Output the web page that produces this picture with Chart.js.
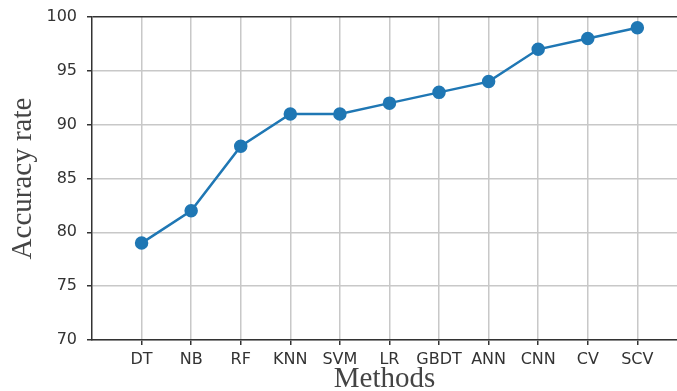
<!DOCTYPE html>
<html>
<head>
<meta charset="utf-8">
<script src="https://cdn.jsdelivr.net/npm/chart.js@4"></script>
<style>
  html, body { margin: 0; padding: 0; background: #fff; }
  #wrap { width: 677px; height: 391px; position: relative; }
</style>
</head>
<body>
<div id="wrap"><canvas id="myChart"></canvas></div>
<script>
// Data
const methods = ['DT', 'NB', 'RF', 'KNN', 'SVM', 'LR', 'GBDT', 'ANN', 'CNN', 'CV', 'SCV'];
const accuracy = [79, 82, 88, 91, 91, 92, 93, 94, 97, 98, 99];
const yTicks = [70, 75, 80, 85, 90, 95, 100];

const axisColor = '#333';
const gridColor = '#c8c8c8';
const titleFont = { family: 'Liberation Serif', size: 29 };

const ctx = document.getElementById('myChart').getContext('2d');

new Chart(ctx, {
  type: 'line',
  data: {
    datasets: [{
      label: 'Accuracy',
      data: accuracy.map((v, i) => ({ x: i + 1, y: v })),
      borderColor: '#1f77b4',
      backgroundColor: '#1f77b4',
      pointBackgroundColor: '#1f77b4',
      pointBorderColor: '#1f77b4',
      borderWidth: 2.5,
      pointRadius: 5.5,
      tension: 0
    }]
  },
  options: {
    responsive: true,
    maintainAspectRatio: false,
    animation: false,
    layout: {
      autoPadding: false,
      padding: { top: 17, right: 0, left: 0, bottom: 0 }
    },
    plugins: {
      legend: { display: false },
      tooltip: { enabled: false }
    },
    scales: {
      x: {
        type: 'linear',
        min: 0,
        max: 11.8,
        afterBuildTicks: (axis) => {
          axis.ticks = methods.map((_, i) => ({ value: i + 1 }));
        },
        afterFit: (axis) => {
          axis.height = 51;
          axis.paddingLeft = 0;
          axis.paddingRight = 0;
        },
        ticks: {
          autoSkip: false,
          maxRotation: 0,
          padding: 5,
          color: axisColor,
          font: { family: 'DejaVu Sans', size: 16 },
          callback: (v) => methods[v - 1] || ''
        },
        grid: {
          color: gridColor,
          lineWidth: 1.5,
          tickLength: 5,
          tickColor: axisColor,
          tickWidth: 1.5
        },
        border: { display: true, color: axisColor, width: 1.5 },
        title: {
          display: true,
          text: 'Methods',
          color: '#444',
          font: titleFont,
          padding: { top: 0, bottom: -6 }
        }
      },
      y: {
        min: 70,
        max: 100,
        afterBuildTicks: (axis) => {
          axis.ticks = yTicks.map(v => ({ value: v }));
        },
        afterFit: (axis) => {
          axis.width = 92;
          axis.paddingTop = 0;
          axis.paddingBottom = 0;
        },
        ticks: {
          padding: 10,
          color: axisColor,
          font: { family: 'DejaVu Sans', size: 16 }
        },
        grid: {
          // the line at 100 doubles as the top spine
          color: (c) => (c.tick && c.tick.value === 100 ? axisColor : gridColor),
          lineWidth: 1.5,
          tickLength: 5,
          tickColor: axisColor,
          tickWidth: 1.5
        },
        border: { display: true, color: axisColor, width: 1.5 },
        title: {
          display: true,
          text: 'Accuracy rate',
          color: '#444',
          font: titleFont,
          padding: { top: 6, bottom: 0 }
        }
      }
    }
  }
});
</script>
</body>
</html>
